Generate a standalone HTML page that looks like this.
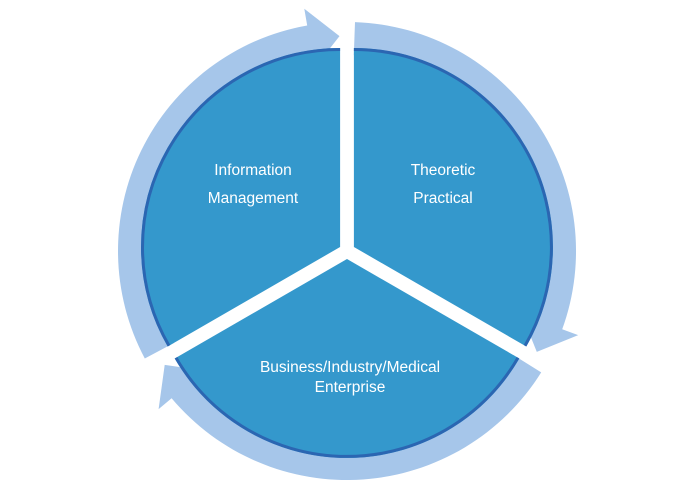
<!DOCTYPE html>
<html><head><meta charset="utf-8"><style>
html,body{margin:0;padding:0;background:#fff;width:696px;height:501px;overflow:hidden}
text{font-family:"Liberation Sans",sans-serif;fill:#fff;font-size:15.5px;text-anchor:middle}
</style></head><body>
<svg id="s" width="696" height="501" viewBox="0 0 696 501" xmlns="http://www.w3.org/2000/svg">
<g id="ring"></g>
<g id="pie"></g>
<text x="253" y="175">Information</text>
<text x="253" y="203">Management</text>
<text x="443" y="175">Theoretic</text>
<text x="443" y="203">Practical</text>
<text x="350" y="372">Business/Industry/Medical</text>
<text x="350" y="392">Enterprise</text>
</svg>
<script>
var cx=347,cy=251,NS="http://www.w3.org/2000/svg";
function P(r,a,ox,oy){var t=a*Math.PI/180;return [(ox||0)+cx+r*Math.sin(t),(oy||0)+cy-r*Math.cos(t)];}
function f(p){return p[0].toFixed(1)+","+p[1].toFixed(1);}
var ring=document.getElementById("ring"),pie=document.getElementById("pie");
for(var k=0;k<3;k++){
 var b=120*k, a0=b+2, a1=b+110, a2=b+118, ro=229, ri=196;
 var d="M"+f(P(ro,a0))+" A"+ro+","+ro+" 0 0 1 "+f(P(ro,a1))+" L"+f(P(246,a1))+" L"+f(P(215,a2))+" L"+f(P(186,a1))+" L"+f(P(ri,a1))+" A"+ri+","+ri+" 0 0 0 "+f(P(ri,a0))+"Z";
 var e=document.createElementNS(NS,"path");e.setAttribute("d",d);e.setAttribute("fill","#a6c6ea");ring.appendChild(e);
 var m=b+60, t=m*Math.PI/180, ox=8*Math.sin(t), oy=-8*Math.cos(t), R=199;
 var c=[cx+ox,cy+oy];
 var s="M"+f(c)+" L"+f(P(R,b,ox,oy))+" A"+R+","+R+" 0 0 1 "+f(P(R,b+120,ox,oy))+"Z";
 var q=document.createElementNS(NS,"path");q.setAttribute("d",s);q.setAttribute("fill","#3498cc");pie.appendChild(q);
 var arc="M"+f(P(R-1.5,b,ox,oy))+" A"+(R-1.5)+","+(R-1.5)+" 0 0 1 "+f(P(R-1.5,b+120,ox,oy));
 var w=document.createElementNS(NS,"path");w.setAttribute("d",arc);w.setAttribute("fill","none");w.setAttribute("stroke","#2b66b2");w.setAttribute("stroke-width","3");pie.appendChild(w);
}
</script>
</body></html>
